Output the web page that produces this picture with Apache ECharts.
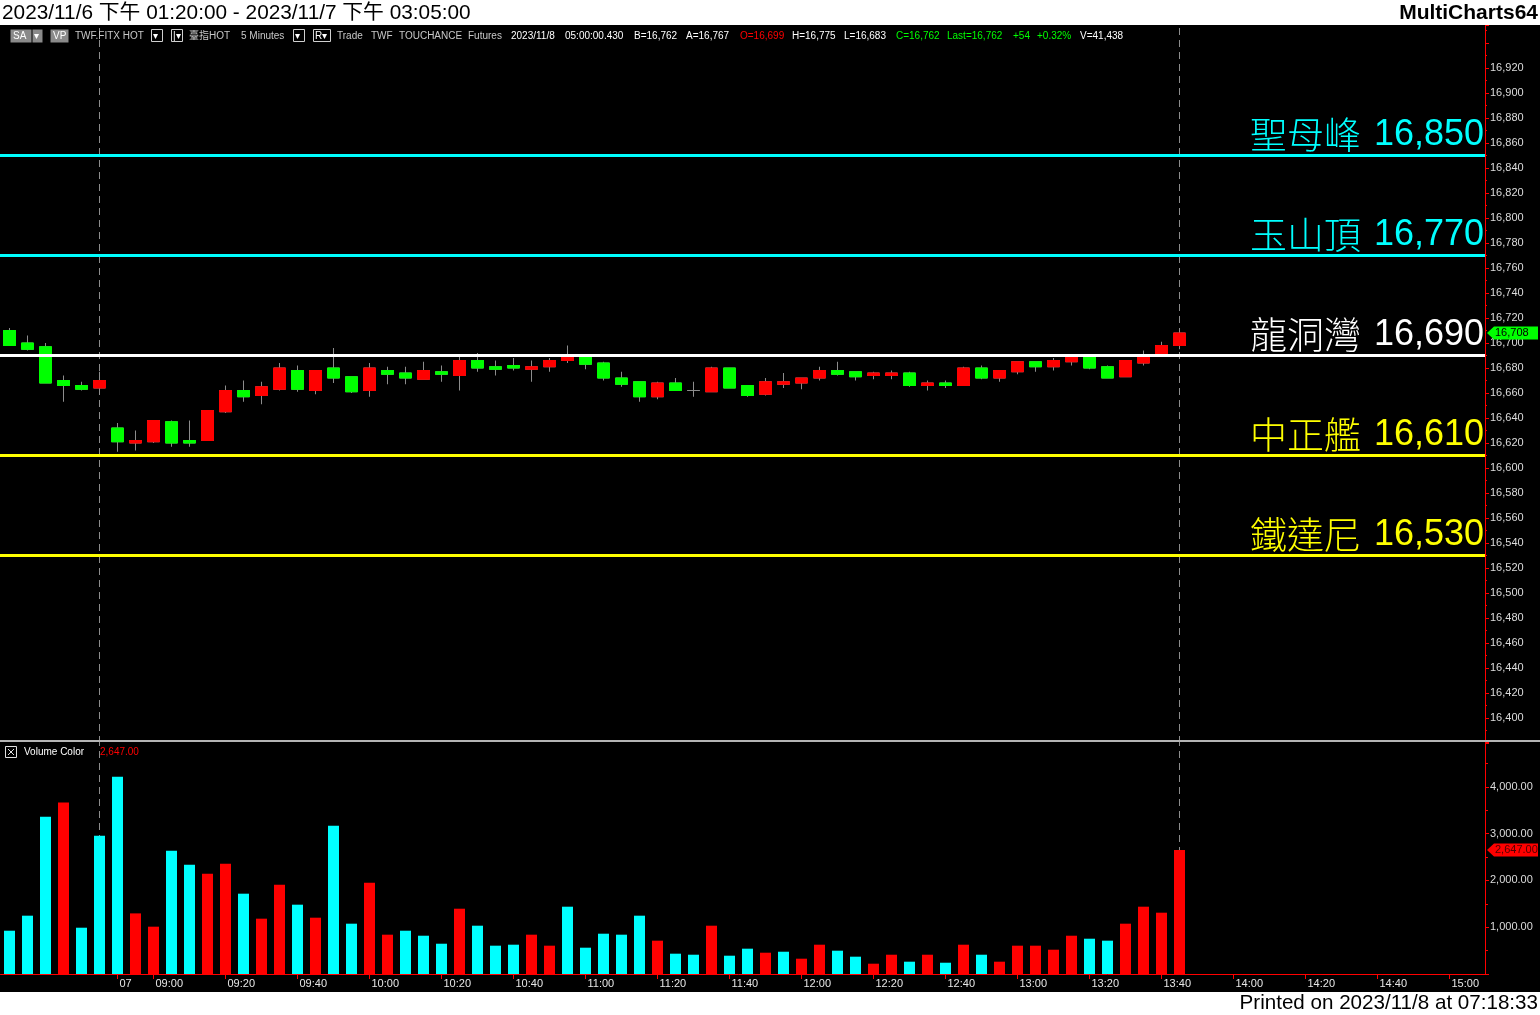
<!DOCTYPE html>
<html>
<head>
<meta charset="utf-8">
<script src="https://cdn.jsdelivr.net/npm/echarts@6/dist/echarts.min.js"></script>
<style>
html,body{margin:0;padding:0;background:#fff;}
#c{width:1540px;height:1015px;}
</style>
</head>
<body>
<div id="c"></div>
<script>
// ---------- DATA ----------
const openP  = [16710,16700,16697,16670,16666,16664,16632,16620,16621,16637,16622,16622,16645,16662,16658,16663,16678,16662,16680,16673,16662,16678,
                16676,16671,16677,16674,16686,16681,16682,16679,16681,16686,16690,16684,16672,16669,16657,16668,16662,16661,16680,16666,16659,16667,16668,
                16672,16678,16677,16674,16674,16676,16666,16668,16666,16680,16672,16677,16685,16681,16685,16690,16681,16673,16684,16691,16698];
const highP  = [16712,16706,16700,16674,16669,16677,16636,16630,16638,16638,16638,16646,16666,16670,16669,16684,16682,16678,16696,16673,16684,16681,
                16681,16685,16682,16689,16692,16686,16688,16686,16688,16698,16690,16685,16677,16669,16669,16672,16669,16681,16680,16666,16672,16676,16672,
                16681,16685,16677,16677,16678,16677,16670,16670,16681,16682,16678,16685,16685,16688,16690,16690,16682,16686,16694,16701,16712];
const lowP   = [16698,16694,16668,16653,16662,16659,16613,16614,16620,16617,16617,16622,16644,16653,16651,16662,16661,16659,16668,16660,16657,16667,
                16667,16671,16669,16662,16677,16674,16678,16669,16677,16684,16679,16670,16665,16653,16655,16662,16657,16661,16664,16657,16658,16664,16663,
                16670,16674,16670,16671,16671,16665,16662,16664,16666,16671,16669,16675,16677,16678,16682,16679,16672,16673,16682,16690,16695];
const closeP = [16698,16695,16668,16666,16663,16670,16621,16622,16638,16620,16620,16646,16662,16657,16665,16680,16663,16678,16672,16661,16680,16675,
                16672,16678,16675,16686,16680,16679,16680,16681,16686,16690,16683,16672,16667,16657,16668,16662,16662,16680,16664,16658,16669,16669,16672,
                16678,16675,16673,16676,16676,16666,16668,16666,16680,16672,16678,16685,16681,16686,16690,16680,16672,16686,16690,16698,16708];
const volume = [925,1246,3361,3667,989,2955,4216,1295,1011,2635,2335,2143,2357,1716,1182,1908,1481,1203,3169,1075,1951,840,
                925,818,647,1395,1032,605,626,840,605,1438,562,861,840,1246,712,434,412,1032,391,541,455,476,327,
                626,498,370,220,412,263,412,241,626,412,263,605,605,519,818,754,712,1075,1438,1310,2647];
// 1 = up-volume (red), 0 = down-volume (cyan)
const volumeUp = [0,0,0,1,0,0,0,1,1,0,0,1,1,0,1,1,0,1,0,0,1,1,
                  0,0,0,1,0,0,0,1,1,0,0,0,0,0,1,0,0,1,0,0,1,0,1,
                  1,0,0,1,1,0,1,0,1,0,1,1,1,1,1,0,0,1,1,1,1];
const levelNames  = ['聖母峰','玉山頂','龍洞灣','中正艦','鐵達尼'];
const levelValues = [16850,16770,16690,16610,16530];
const xTickLabels = ['07','09:00','09:20','09:40','10:00','10:20','10:40','11:00','11:20','11:40','12:00','12:20','12:40','13:00','13:20','13:40','14:00','14:20','14:40','15:00'];
const priceLabelRange = [16400,16920];
const volumeLabelMax = 4000;

// time slots: session of 11/6 tail + 11/7 day session + empty future slots
function hm(m){const h=Math.floor(m/60),mm=m%60;return String(h).padStart(2,'0')+':'+String(mm).padStart(2,'0');}
const categories = [];
for(let m=13*60+20;m<=13*60+45;m+=5) categories.push('11/6 '+hm(m));
for(let m=8*60+50;m<=15*60+5;m+=5) categories.push('11/7 '+hm(m));
const tickCats = {};
xTickLabels.forEach(l=>{ tickCats[l==='07' ? '11/7 08:50' : '11/7 '+l] = l; });
const sessionEnds = categories.filter((c,i)=>c.endsWith('13:45') && i<closeP.length);

// ---------- STYLE ----------
const RED='#FF0000', GREEN='#00FF00', CYAN='#00FFFF', GRAY='#8c8c8c';
const levelColors = ['#00FFFF','#00FFFF','#FFFFFF','#FFFF00','#FFFF00'];
const FONT = '"Liberation Sans", Arial, "Noto Sans CJK TC", sans-serif';

const chart = echarts.init(document.getElementById('c'), null, {renderer:'canvas', width:1540, height:1015});

const wickData = openP.map((o,i)=>[o, closeP[i], lowP[i], highP[i]]);
const bodyData = openP.map((o,i)=>{
  const c = closeP[i];
  if(o===c) return {value:[o,c,o,c], itemStyle:{color:GRAY,color0:GRAY,borderColor:GRAY,borderColor0:GRAY,borderColorDoji:GRAY}};
  return [o, c, Math.min(o,c), Math.max(o,c)];
});
const volData = volume.map((v,i)=>({value:v, itemStyle:{color: volumeUp[i] ? RED : CYAN}}));
const fmtInt = v => Number(v).toLocaleString('en-US');
const fmt2 = v => Number(v).toLocaleString('en-US',{minimumFractionDigits:2, maximumFractionDigits:2});

const PRICE_MIN = 16380, PRICE_MAX = 16954.4;
const VOL_MAX = 4957;

const option = {
  backgroundColor:'#000',
  animation:false,
  grid:[
    {left:0.5, top:25, width:1476, height:718, outerBoundsMode:'none'},
    {left:0.5, top:742, width:1476, height:232, outerBoundsMode:'none'},
    {left:0, top:25, width:1485, height:718, outerBoundsMode:'none'}
  ],
  xAxis:[
    {gridIndex:0, type:'category', data:categories, show:false, boundaryGap:true},
    {gridIndex:1, type:'category', data:categories, boundaryGap:true,
      axisLine:{show:true, lineStyle:{color:RED, width:1}},
      axisTick:{show:true, alignWithLabel:true, length:5, lineStyle:{color:RED}, interval:(i,v)=>tickCats[v]!==undefined},
      axisLabel:{show:true, interval:(i,v)=>tickCats[v]!==undefined, formatter:v=>tickCats[v]||'',
        color:'#e6e6e6', fontSize:11, fontFamily:FONT, align:'left', margin:4, padding:[0,0,0,2], hideOverlap:false},
      splitLine:{show:false}},
    {gridIndex:2, type:'value', min:0, max:1, show:false}
  ],
  yAxis:[
    {gridIndex:0, type:'value', position:'right', offset:8.5, min:PRICE_MIN, max:PRICE_MAX, interval:20,
      axisLine:{show:true, lineStyle:{color:RED, width:1}},
      axisTick:{show:true, length:4, lineStyle:{color:RED}},
      minorTick:{show:true, splitNumber:2, length:2, lineStyle:{color:RED}},
      axisLabel:{color:'#dcdcdc', fontSize:11, fontFamily:FONT, margin:5, showMinLabel:false, showMaxLabel:false,
        formatter:v=>(v<priceLabelRange[0]||v>priceLabelRange[1])?'':fmtInt(v)},
      splitLine:{show:false}},
    {gridIndex:1, type:'value', position:'right', offset:8.5, min:0, max:VOL_MAX, interval:1000,
      axisLine:{show:true, lineStyle:{color:RED, width:1}},
      axisTick:{show:true, length:4, lineStyle:{color:RED}},
      minorTick:{show:true, splitNumber:2, length:3, lineStyle:{color:RED}},
      axisLabel:{color:'#dcdcdc', fontSize:11, fontFamily:FONT, margin:5, showMinLabel:false, showMaxLabel:false,
        formatter:v=>(v<=0||v>volumeLabelMax)?'':fmt2(v)},
      splitLine:{show:false}},
    {gridIndex:2, type:'value', min:PRICE_MIN, max:PRICE_MAX, show:false}
  ],
  series:[
    {type:'line', xAxisIndex:0, yAxisIndex:0, data:[], z:1, silent:true,
      markLine:{silent:true, z:0, symbol:['none','none'], label:{show:false},
        lineStyle:{color:GRAY, type:[7,5], width:1},
        data:sessionEnds.map(c=>({xAxis:c}))}},
    {type:'candlestick', xAxisIndex:0, yAxisIndex:0, data:wickData, barWidth:12, z:3, silent:true,
      itemStyle:{color:GRAY, color0:GRAY, borderColor:GRAY, borderColor0:GRAY, borderColorDoji:GRAY, borderWidth:1}},
    {type:'candlestick', xAxisIndex:0, yAxisIndex:0, data:bodyData, barWidth:12, z:4, silent:true,
      itemStyle:{color:RED, color0:GREEN, borderColor:RED, borderColor0:GREEN, borderColorDoji:GRAY, borderWidth:1}},
    {type:'line', xAxisIndex:2, yAxisIndex:2, data:[[0,levelValues[0]],[1,levelValues[0]]], z:6, silent:true,
      symbol:'none', lineStyle:{opacity:0},
      markLine:{silent:true, z:8, symbol:['none','none'],
        data:levelValues.map((v,i)=>({yAxis:v,
          lineStyle:{color:levelColors[i], width:3, type:'solid'},
          label:{show:true, position:'insideEndTop', distance:[1,2],
            formatter:'{a|'+levelNames[i]+'}{s|}{b|'+fmtInt(v)+'}',
            rich:{a:{fontFamily:'"Noto Sans CJK TC", sans-serif', fontWeight:300, fontSize:37, color:levelColors[i]},
                  s:{width:13},
                  b:{fontFamily:FONT, fontSize:36, color:levelColors[i]}}}}))}},
    {type:'line', xAxisIndex:1, yAxisIndex:1, data:[], z:1, silent:true,
      markLine:{silent:true, z:0, symbol:['none','none'], label:{show:false},
        lineStyle:{color:GRAY, type:[7,5], width:1},
        data:sessionEnds.map(c=>({xAxis:c}))}},
    {type:'bar', xAxisIndex:1, yAxisIndex:1, data:volData, barWidth:11, z:3, silent:true}
  ]
};
chart.setOption(option);

// ---------- decorations / texts ----------
const lastClose = closeP[closeP.length-1];
const lastVol = volume[volume.length-1];
const yClose = chart.convertToPixel({yAxisIndex:0}, lastClose);
const yVol = chart.convertToPixel({yAxisIndex:1}, lastVol);
const yBase = chart.convertToPixel({yAxisIndex:1}, 0);
function tag(y, fill, txt, txtColor){
  return [
    {type:'polygon', z:200, shape:{points:[[1487,y],[1494,y-6.5],[1538,y-6.5],[1538,y+6.5],[1494,y+6.5]]}, style:{fill:fill}},
    {type:'text', z:201, x:1495, y:y, style:{text:txt, fill:txtColor, font:'11px '+FONT, verticalAlign:'middle', align:'left'}}
  ];
}
function t(x,y,text,fill,font,align){
  return {type:'text', z:150, x:x, y:y, style:{text:text, fill:fill, font:font||('10px '+FONT), verticalAlign:'middle', align:align||'left'}};
}
function box(x,y,w,h,filled){
  return {type:'rect', z:150, shape:{x:x,y:y,width:w,height:h}, style: filled?{fill:'#8a8a8a'}:{fill:'none', stroke:'#d0d0d0', lineWidth:1}};
}
const IY = 36;
const infoG = '#c8c8c8', infoW = '#ffffff';
const graphics = [
  {type:'rect', z:100, shape:{x:0,y:0,width:1540,height:25}, style:{fill:'#fff'}},
  {type:'rect', z:100, shape:{x:0,y:992,width:1540,height:23}, style:{fill:'#fff'}},
  {type:'rect', z:100, shape:{x:0,y:740,width:1540,height:2}, style:{fill:'#b4b4b4'}},
  {type:'line', z:100, shape:{x1:1476,y1:Math.round(yBase)+0.5,x2:1485,y2:Math.round(yBase)+0.5}, style:{stroke:RED, lineWidth:1}},
  t(2,13,'2023/11/6 下午 01:20:00 - 2023/11/7 下午 03:05:00','#000','20.8px '+FONT),
  t(1538,13,'MultiCharts64','#000','bold 21px '+FONT,'right'),
  t(1538,1003,'Printed on 2023/11/8 at 07:18:33','#000','20.6px '+FONT,'right'),
  // info bar
  box(10.5,29.5,21,13,true), t(13,IY,'SA','#fff'), box(32.5,29.5,10,13,true), t(34,IY,'▾','#fff'),
  box(50.5,29.5,18,13,true), t(53,IY,'VP','#fff'),
  t(75,IY,'TWF.FITX HOT',infoG),
  box(151.5,29.5,11,12,false), t(153,IY,'▾','#fff'),
  box(171.5,29.5,11,12,false), t(173,IY,'|▾','#fff'),
  t(189,IY,'臺指HOT',infoG), t(241,IY,'5 Minutes',infoG),
  box(293.5,29.5,11,12,false), t(295,IY,'▾','#fff'),
  box(313.5,29.5,17,12,false), t(315,IY,'R▾','#fff'),
  t(337,IY,'Trade',infoG), t(371,IY,'TWF',infoG), t(399,IY,'TOUCHANCE',infoG), t(468,IY,'Futures',infoG),
  t(511,IY,'2023/11/8',infoW), t(565,IY,'05:00:00.430',infoW),
  t(634,IY,'B=16,762',infoW), t(686,IY,'A=16,767',infoW),
  t(740,IY,'O=16,699',RED), t(792,IY,'H=16,775',infoW), t(844,IY,'L=16,683',infoW),
  t(896,IY,'C=16,762',GREEN), t(947,IY,'Last=16,762',GREEN), t(1013,IY,'+54',GREEN), t(1037,IY,'+0.32%',GREEN),
  t(1080,IY,'V=41,438',infoW),
  // volume legend
  {type:'rect', z:150, shape:{x:5.5,y:746.5,width:11,height:11}, style:{fill:'none', stroke:'#e0e0e0', lineWidth:1}},
  {type:'line', z:150, shape:{x1:8,y1:749,x2:14,y2:755}, style:{stroke:'#e0e0e0'}},
  {type:'line', z:150, shape:{x1:14,y1:749,x2:8,y2:755}, style:{stroke:'#e0e0e0'}},
  t(24,752,'Volume Color','#ffffff'),
  t(100,752,fmt2(lastVol),RED)
].concat(tag(yClose, GREEN, fmtInt(lastClose), '#000'))
 .concat(tag(yVol, RED, fmt2(lastVol), '#500000'));
chart.setOption({graphic:graphics});
</script>
</body>
</html>
